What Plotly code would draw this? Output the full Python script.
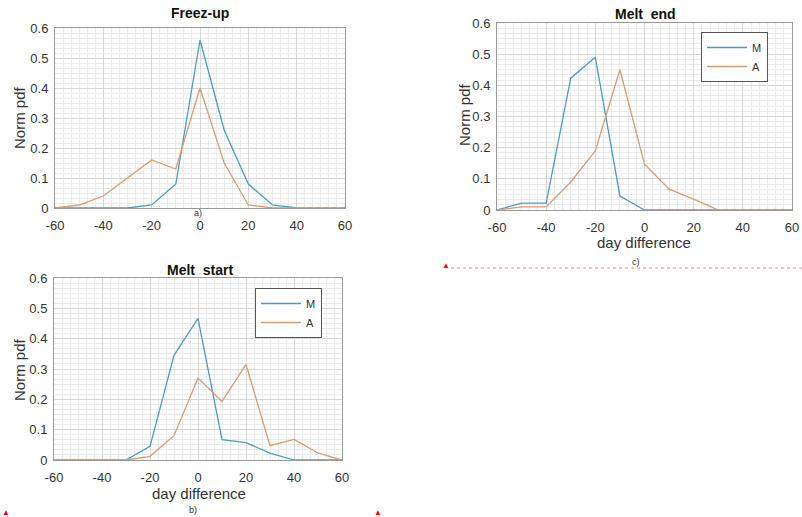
import plotly.graph_objects as go

W, H = 802, 517
OFF = 0  # body margin removed via post_script

days = [-60, -50, -40, -30, -20, -10, 0, 10, 20, 30, 40, 50, 60]

freeze_M = [0, 0, 0, 0, 0.01, 0.08, 0.56, 0.26, 0.08, 0.01, 0, 0, 0]
freeze_A = [0, 0.01, 0.04, 0.10, 0.16, 0.13, 0.40, 0.15, 0.01, 0, 0, 0, 0]

mstart_M = [0, 0, 0, 0, 0.045, 0.345, 0.467, 0.067, 0.057, 0.023, 0, 0, 0]
mstart_A = [0, 0, 0, 0, 0.012, 0.08, 0.27, 0.193, 0.315, 0.047, 0.068, 0.023, 0]

mend_M = [0, 0.022, 0.022, 0.423, 0.49, 0.045, 0, 0, 0, 0, 0, 0, 0]
mend_A = [0, 0.01, 0.01, 0.09, 0.19, 0.45, 0.147, 0.067, 0.035, 0, 0, 0, 0]

x_ticks = [-60, -40, -20, 0, 20, 40, 60]
x_ticklabels = ["-60", "-40", "-20", "0", "20", "40", "60"]
y_ticks = [0, 0.1, 0.2, 0.3, 0.4, 0.5, 0.6]
y_ticklabels = ["0", "0.1", "0.2", "0.3", "0.4", "0.5", "0.6"]

BLUE = "#4a9cc8"
ORANGE = "#d99a72"
FONT = "Liberation Sans, Arial, sans-serif"
TXT = "#333333"


def px(x):
    return (x - OFF) / W


def py(y):
    return 1 - (y - OFF) / H


# panel boxes in screen pixels: (x0, x1, ytop, ybottom)
panels = {
    "a": (55, 345, 28, 208),
    "b": (54, 342, 278, 460),
    "c": (497, 792, 23, 210),
}

fig = go.Figure()

series = [
    ("x", "y", freeze_M, freeze_A, None),
    ("x2", "y2", mstart_M, mstart_A, "legend"),
    ("x3", "y3", mend_M, mend_A, "legend2"),
]
for xa, ya, m, a, leg in series:
    show = leg is not None
    fig.add_trace(go.Scatter(x=days, y=m, mode="lines", name="M", xaxis=xa, yaxis=ya,
                             line=dict(color=BLUE, width=1.3), showlegend=show,
                             legend=leg if leg else "legend"))
    fig.add_trace(go.Scatter(x=days, y=a, mode="lines", name="A", xaxis=xa, yaxis=ya,
                             line=dict(color=ORANGE, width=1.3), showlegend=show,
                             legend=leg if leg else "legend"))


def xaxis_cfg(box, anchor):
    x0, x1, yt, yb = box
    return dict(domain=[px(x0), px(x1)], anchor=anchor, range=[-60, 60],
                tickvals=x_ticks, ticktext=x_ticklabels, ticks="", showline=True, mirror=True,
                linecolor="#9a9a9a", linewidth=1, zeroline=False,
                showgrid=True, gridcolor="#d8d8d8", gridwidth=1,
                minor=dict(dtick=20 / 6, tick0=0, showgrid=True, gridcolor="#ebebeb", gridwidth=1),
                tickfont=dict(family=FONT, size=13, color=TXT), fixedrange=True,
                automargin=False, ticklabelstandoff=5)


def yaxis_cfg(box, anchor):
    x0, x1, yt, yb = box
    return dict(domain=[py(yb), py(yt)], anchor=anchor, range=[0, 0.6],
                tickvals=y_ticks, ticktext=y_ticklabels, ticks="", showline=True, mirror=True,
                linecolor="#9a9a9a", linewidth=1, zeroline=False,
                showgrid=True, gridcolor="#d8d8d8", gridwidth=1,
                minor=dict(dtick=0.1 / 6, tick0=0, showgrid=True, gridcolor="#ebebeb", gridwidth=1),
                tickfont=dict(family=FONT, size=13, color=TXT), fixedrange=True,
                automargin=False, ticklabelstandoff=3)


fig.update_layout(
    width=W, height=H,
    margin=dict(l=0, r=0, t=0, b=0, autoexpand=False),
    paper_bgcolor="white", plot_bgcolor="white",
    font=dict(family=FONT, color=TXT),
    xaxis=xaxis_cfg(panels["a"], "y"),
    yaxis=yaxis_cfg(panels["a"], "x"),
    xaxis2=xaxis_cfg(panels["b"], "y2"),
    yaxis2=yaxis_cfg(panels["b"], "x2"),
    xaxis3=xaxis_cfg(panels["c"], "y3"),
    yaxis3=yaxis_cfg(panels["c"], "x3"),
    legend=dict(x=px(255), y=py(288), xanchor="left", yanchor="top",
                bgcolor="white", bordercolor="#555555", borderwidth=1,
                font=dict(family=FONT, size=11, color=TXT),
                itemwidth=40, tracegroupgap=0),
    legend2=dict(x=px(701), y=py(32), xanchor="left", yanchor="top",
                 bgcolor="white", bordercolor="#555555", borderwidth=1,
                 font=dict(family=FONT, size=11, color=TXT),
                 itemwidth=40, tracegroupgap=0),
    showlegend=True,
)

ann = []


def text(x, y, s, size, bold=False, angle=0):
    ann.append(dict(x=px(x), y=py(y), xref="paper", yref="paper", text=f"<b>{s}</b>" if bold else s,
                    showarrow=False, xanchor="center", yanchor="middle", textangle=angle,
                    font=dict(family=FONT, size=size, color="#111111" if bold else TXT)))


text(200, 13, "Freez-up", 14, bold=True)
text(200, 270, "Melt  start", 14, bold=True)
text(645, 14, "Melt  end", 14, bold=True)
text(19, 118, "Norm pdf", 15, angle=-90)
text(19, 370, "Norm pdf", 15, angle=-90)
text(465, 115, "Norm pdf", 15, angle=-90)
text(199, 493, "day difference", 15)
text(644, 243, "day difference", 15)
text(198, 213, "a)", 9)
text(193, 510, "b)", 9)
text(636, 262, "c)", 9)

# red anchor markers
for x, y in [(6, 512), (378, 512), (446, 265)]:
    ann.append(dict(x=px(x), y=py(y), xref="paper", yref="paper", text="▲", showarrow=False,
                    xanchor="center", yanchor="middle", font=dict(size=8, color="#ff0000")))

fig.update_layout(annotations=ann)
fig.add_shape(type="line", xref="paper", yref="paper", x0=px(451), x1=px(802), y0=py(268), y1=py(268),
              line=dict(color="#ff8080", width=1, dash="dot"))

fig.write_html("out.html", config={"displayModeBar": False},
               post_script="document.body.style.margin='0';document.body.style.overflow='hidden';")
